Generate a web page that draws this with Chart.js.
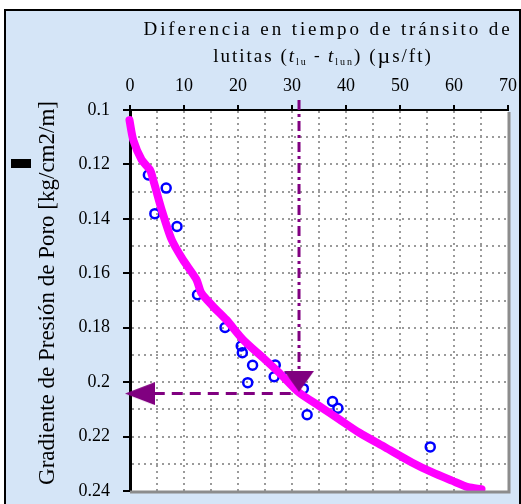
<!DOCTYPE html>
<html>
<head>
<meta charset="utf-8">
<script src="https://cdn.jsdelivr.net/npm/chart.js@4"></script>
<style>
  html, body { margin: 0; padding: 0; background: #fff; }
  #wrap { width: 521px; height: 504px; }
</style>
</head>
<body>
<div id="wrap"><canvas id="chart" width="521" height="504"></canvas></div>
<script>
// measured points (diferencia de tiempo, gradiente)
const pointX = [3.4, 6.7, 4.6, 8.7, 12.5, 17.6, 20.6, 20.8, 22.7, 21.8, 26.9, 26.7, 29.3, 32.1, 37.5, 38.5, 32.8, 55.6]
const pointY = [0.1239, 0.1287, 0.1381, 0.1428, 0.1679, 0.1799, 0.1867, 0.1892, 0.1938, 0.2002, 0.1937, 0.198, 0.198, 0.2024, 0.2071, 0.2096, 0.212, 0.2238]

// trend curve (magenta)
const curveX = [-0.1, 0.6, 2.15, 3.7, 4.3, 5.85, 7.7, 9.8, 12.3, 13.2, 15.35, 17.8, 20.9, 24.6, 27.6, 31.3, 35.0, 38.7, 42.4, 47.3, 52.2, 55.9, 59.6, 62.6, 65.1]
const curveY = [0.1037, 0.111, 0.1183, 0.122, 0.1257, 0.1366, 0.1476, 0.155, 0.1623, 0.1672, 0.1721, 0.177, 0.1843, 0.191, 0.1965, 0.2038, 0.2087, 0.2136, 0.2185, 0.224, 0.2295, 0.2331, 0.2362, 0.2386, 0.2393]

// reading guide
const guideX = [31.3, 31.3]
const guideY = [0.0963, 0.1962]
const readX = [4.4, 31.3]
const readY = [0.2042, 0.2042]
const arrowDown = {x: 31.3, y: 0.1997}
const arrowLeft = {x: 1.85, y: 0.2042}

const xMin = 0, xMax = 70, xStep = 5
const yMin = 0.1, yMax = 0.24, yStep = 0.01

const titleLine1 = "Diferencia en tiempo de tránsito de"
const yTitle = "Gradiente de Presión de Poro [kg/cm2/m]"

const serif = '"Liberation Serif", "DejaVu Serif", serif'
const purple = '#800080'

function toPoints(xs, ys) {
    return xs.map((x, i) => ({x: x, y: ys[i]}))
}

function arrowImage(w, h, dir) {
    let c = document.createElement('canvas')
    c.width = w
    c.height = h
    let g = c.getContext('2d')
    g.fillStyle = purple
    g.beginPath()
    if (dir === 'down') {
        g.moveTo(0, 0); g.lineTo(w, 0); g.lineTo(w / 2, h)
    } else {
        g.moveTo(w, 0); g.lineTo(w, h); g.lineTo(0, h / 2)
    }
    g.closePath()
    g.fill()
    return c
}

const backdrop = {
    id: 'backdrop',
    beforeDraw(chart) {
        const c = chart.ctx
        const a = chart.chartArea
        c.save()
        c.fillStyle = '#ffffff'
        c.fillRect(0, 0, chart.width, chart.height)
        c.fillStyle = '#d5e5f7'
        c.fillRect(5, 10, 515, 494)
        c.fillStyle = '#000'
        c.fillRect(4, 9, 2, 495)
        c.fillRect(4, 9, 517, 2)
        c.fillRect(519, 9, 2, 495)
        // small black marker left of the axis title
        c.fillRect(11, 159, 20, 9)
        c.fillStyle = '#ffffff'
        c.fillRect(a.left, a.top, a.right - a.left, a.bottom - a.top)
        c.restore()
    },
    afterDraw(chart) {
        const c = chart.ctx
        const a = chart.chartArea
        c.save()
        // grey frame right and bottom
        c.strokeStyle = '#8c8c8c'
        c.lineWidth = 3
        c.beginPath()
        c.moveTo(a.left, a.bottom + 1)
        c.lineTo(a.right + 1, a.bottom + 1)
        c.lineTo(a.right + 1, a.top + 2)
        c.stroke()

        c.fillStyle = '#000'
        c.textBaseline = 'alphabetic'
        c.textAlign = 'center'
        c.font = '19px ' + serif
        c.letterSpacing = '2.9px'
        c.fillText(titleLine1, 328, 35)

        // second line with subscripts
        const parts = [
            {t: 'lutitas (', f: '19px ' + serif, dy: 0},
            {t: 't', f: 'italic 19px ' + serif, dy: 0},
            {t: 'lu', f: '10px ' + serif, dy: 3},
            {t: ' - ', f: '17px ' + serif, dy: -1},
            {t: 't', f: 'italic 19px ' + serif, dy: 0},
            {t: 'lun', f: '10px ' + serif, dy: 3},
            {t: ') (', f: '19px ' + serif, dy: 0},
            {t: 'µ', f: '22px ' + serif, dy: 1},
            {t: 's/ft)', f: '19px ' + serif, dy: 0}
        ]
        c.textAlign = 'left'
        c.letterSpacing = '2px'
        let total = 0
        parts.forEach(p => { c.font = p.f; p.w = c.measureText(p.t).width; total += p.w })
        let x = 323 - total / 2
        parts.forEach(p => { c.font = p.f; c.fillText(p.t, x, 62 + p.dy); x += p.w })

        c.letterSpacing = '0px'
        c.translate(48, 293)
        c.rotate(-Math.PI / 2)
        c.textAlign = 'center'
        c.textBaseline = 'middle'
        c.font = '23px ' + serif
        c.fillText(yTitle, 0, 0)
        c.restore()
    }
}

function gridColor(lo, hi) {
    return ctx => {
        if (!ctx.tick) return 'transparent'
        let v = ctx.tick.value
        return (Math.abs(v - lo) < 1e-6 || Math.abs(v - hi) < 1e-6) ? 'transparent' : '#9a9a9a'
    }
}

new Chart('chart', {
    type: 'scatter',
    data: {
        datasets: [
            {
                label: 'datos',
                data: toPoints(pointX, pointY),
                pointStyle: 'circle',
                pointRadius: 4.5,
                pointBorderWidth: 2.5,
                borderColor: '#0000ff',
                backgroundColor: 'rgba(0,0,0,0)',
                order: 5
            },
            {
                label: 'guia vertical',
                data: toPoints(guideX, guideY),
                showLine: true,
                pointRadius: 0,
                borderColor: purple,
                borderWidth: 3,
                borderDash: [10, 4, 3, 4],
                clip: false,
                order: 4
            },
            {
                label: 'guia horizontal',
                data: toPoints(readX, readY),
                showLine: true,
                pointRadius: 0,
                borderColor: purple,
                borderWidth: 3,
                borderDash: [11, 7],
                clip: false,
                order: 3
            },
            {
                label: 'tendencia',
                data: toPoints(curveX, curveY),
                showLine: true,
                pointRadius: 0,
                borderColor: '#ff00ff',
                borderWidth: 8,
                borderCapStyle: 'round',
                borderJoinStyle: 'round',
                tension: 0.25,
                clip: false,
                order: 2
            },
            {
                label: 'flechas',
                data: [arrowDown, arrowLeft],
                pointStyle: [arrowImage(30, 21, 'down'), arrowImage(30, 23, 'left')],
                pointRadius: 12,
                clip: false,
                order: 1
            }
        ]
    },
    options: {
        responsive: false,
        animation: false,
        layout: { padding: { left: 0, top: 0, right: 11, bottom: 12 } },
        plugins: {
            legend: { display: false },
            tooltip: { enabled: false }
        },
        scales: {
            x: {
                type: 'linear',
                position: 'top',
                min: xMin,
                max: xMax,
                afterFit(scale) {
                    scale.height = 110
                    scale.paddingLeft = 0
                    scale.paddingRight = 0
                },
                ticks: {
                    stepSize: xStep,
                    padding: 8,
                    color: '#000',
                    font: { family: serif, size: 18 },
                    maxRotation: 0,
                    autoSkip: false,
                    callback: v => (v % 10 === 0 ? String(v) : '')
                },
                grid: {
                    color: gridColor(xMin, xMax),
                    lineWidth: 2,
                    tickLength: 5,
                    tickWidth: 2,
                    tickColor: ctx => (ctx.tick && ctx.tick.value % 10 === 0 ? '#000' : 'transparent')
                },
                border: { display: true, color: '#000', width: 2, dash: [2, 4] }
            },
            y: {
                type: 'linear',
                reverse: true,
                min: yMin,
                max: yMax,
                afterFit(scale) {
                    scale.width = 130
                    scale.paddingTop = 0
                    scale.paddingBottom = 0
                },
                ticks: {
                    stepSize: yStep,
                    padding: 13,
                    color: '#000',
                    font: { family: serif, size: 18 },
                    autoSkip: false,
                    callback: v => (Math.round(v * 100) % 2 === 0 ? String(Number(v.toFixed(2))) : '')
                },
                grid: {
                    color: gridColor(yMin, yMax),
                    lineWidth: 2,
                    tickLength: 7,
                    tickWidth: 2,
                    tickColor: ctx => (ctx.tick && Math.round(ctx.tick.value * 100) % 2 === 0 ? '#000' : 'transparent')
                },
                border: { display: true, color: '#000', width: 3, dash: [2, 4] }
            }
        }
    },
    plugins: [backdrop]
})
</script>
</body>
</html>
